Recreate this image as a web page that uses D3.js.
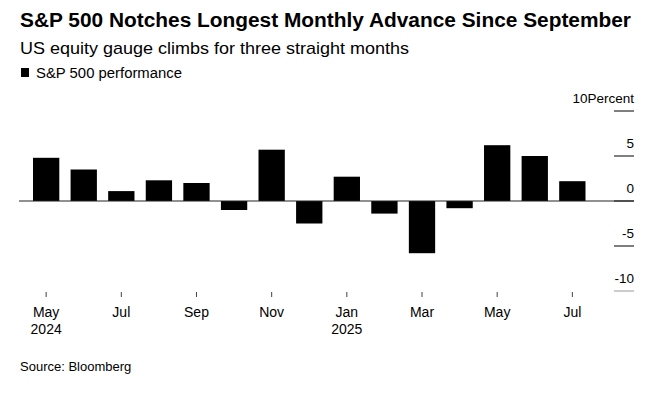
<!DOCTYPE html>
<html>
<head>
<meta charset="utf-8">
<script src="https://cdn.jsdelivr.net/npm/d3@7"></script>
<style>
    body { margin: 0; background: #fff; }
    text { font-family: "Liberation Sans", Arial, sans-serif; fill: #000; }
</style>
</head>
<body>
<svg width="669" height="396"></svg>
<script>
// Monthly S&P 500 performance, percent
let months = ["2024-05", "2024-06", "2024-07", "2024-08", "2024-09", "2024-10", "2024-11", "2024-12",
    "2025-01", "2025-02", "2025-03", "2025-04", "2025-05", "2025-06", "2025-07"];
let performance = [4.8, 3.5, 1.1, 2.3, 2.0, -1.0, 5.7, -2.5, 2.7, -1.4, -5.8, -0.8, 6.2, 5.0, 2.2];
let yTicks = [10, 5, 0, -5, -10];
let xTickMonths = ["2024-05", "2024-07", "2024-09", "2024-11", "2025-01", "2025-03", "2025-05", "2025-07"];
let xTickLabels = [["May", "2024"], ["Jul"], ["Sep"], ["Nov"], ["Jan", "2025"], ["Mar"], ["May"], ["Jul"]];

let svg = d3.select("svg");

let data = months.map((m, i) => ({ month: m, value: performance[i] }));

let x = d3.scaleBand().domain(months).range([33, 585.5]).paddingInner(0.3).paddingOuter(0);
let y = d3.scaleLinear().domain([-10, 10]).range([291, 111]);

// Titles (Bloomberg's face is wider than Arial, so stretch to the same width)
svg.append("text")
    .attr("x", 20).attr("y", 27)
    .attr("font-size", 20).attr("font-weight", "bold")
    .attr("textLength", 611).attr("lengthAdjust", "spacingAndGlyphs")
    .text("S&P 500 Notches Longest Monthly Advance Since September");

svg.append("text")
    .attr("x", 20).attr("y", 54)
    .attr("font-size", 17)
    .attr("textLength", 389).attr("lengthAdjust", "spacingAndGlyphs")
    .text("US equity gauge climbs for three straight months");

// Legend
svg.append("rect").attr("x", 21).attr("y", 68).attr("width", 8).attr("height", 9).attr("fill", "#000");
svg.append("text")
    .attr("x", 36).attr("y", 77.5)
    .attr("font-size", 14)
    .attr("textLength", 146).attr("lengthAdjust", "spacingAndGlyphs")
    .text("S&P 500 performance");

// Y axis on the right: short tick lines with labels above them
let yAxis = svg.append("g").attr("class", "y-axis");
yAxis.selectAll("line")
    .data(yTicks)
    .enter()
    .append("line")
    .attr("x1", 614).attr("x2", 634)
    .attr("y1", (d) => y(d)).attr("y2", (d) => y(d))
    .attr("stroke", (d) => (d === -10 ? "#999" : "#000"))
    .attr("stroke-width", 1);

yAxis.selectAll("text")
    .data(yTicks)
    .enter()
    .append("text")
    .attr("x", 634)
    .attr("y", (d) => y(d) - 8)
    .attr("text-anchor", "end")
    .attr("font-size", 13.5)
    .text((d) => (d === 10 ? "10Percent" : d));

// Bars
svg.append("g")
    .attr("class", "bars")
    .selectAll("rect")
    .data(data)
    .enter()
    .append("rect")
    .attr("x", (d) => x(d.month))
    .attr("width", x.bandwidth())
    .attr("y", (d) => y(Math.max(0, d.value)))
    .attr("height", (d) => Math.abs(y(d.value) - y(0)))
    .attr("fill", "#000");

// Zero line
svg.append("line")
    .attr("x1", 19).attr("x2", 634)
    .attr("y1", y(0)).attr("y2", y(0))
    .attr("stroke", "#222").attr("stroke-width", 1);

// X axis ticks and labels
let xAxis = svg.append("g").attr("class", "x-axis");
xAxis.selectAll("line")
    .data(xTickMonths)
    .enter()
    .append("line")
    .attr("x1", (d) => x(d) + x.bandwidth() / 2)
    .attr("x2", (d) => x(d) + x.bandwidth() / 2)
    .attr("y1", 292).attr("y2", 297)
    .attr("stroke", "#444").attr("stroke-width", 1);

xAxis.selectAll("text")
    .data(xTickMonths)
    .enter()
    .append("text")
    .attr("x", (d) => x(d) + x.bandwidth() / 2)
    .attr("y", 317)
    .attr("text-anchor", "middle")
    .attr("font-size", 14)
    .each(function (d, i) {
        let t = d3.select(this);
        xTickLabels[i].forEach((line, j) => {
            t.append("tspan")
                .attr("x", x(d) + x.bandwidth() / 2)
                .attr("dy", j === 0 ? 0 : 16.5)
                .text(line);
        });
    });

// Source
svg.append("text")
    .attr("x", 20).attr("y", 370.5)
    .attr("font-size", 13)
    .text("Source: Bloomberg");
</script>
</body>
</html>
